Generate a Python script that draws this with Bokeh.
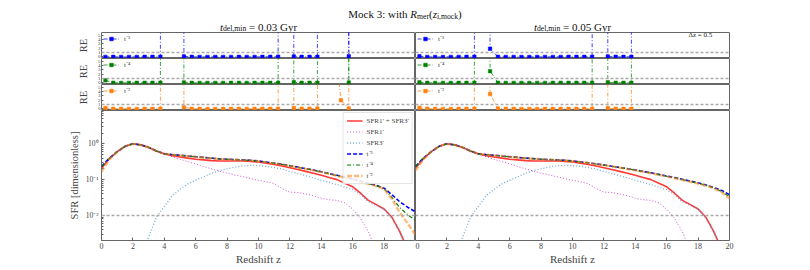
from bokeh.plotting import figure
from bokeh.layouts import column, row
from bokeh.models import Range1d, FixedTicker, Span, Legend, LegendItem, Label
from bokeh.embed import file_html
from bokeh.resources import INLINE
from bokeh.core.properties import value

FONT = "Liberation Serif"

# ---------------- data ----------------
z_sfr = [0.0, 0.5, 1.0, 1.5, 2.0, 2.5, 3.0, 3.5, 4.0, 4.5, 5.0, 5.5, 6.0, 6.5, 7.0, 7.5,
         8.0, 8.5, 9.0, 9.5, 10.0, 10.5, 11.0, 11.5, 12.0, 12.5, 13.0, 13.5, 14.0, 14.5,
         15.0, 15.5, 16.0, 16.5, 17.0, 17.5, 18.0, 18.5, 19.0, 19.5, 20.0]

sfr_total = [0.209, 0.380, 0.603, 0.851, 1.0, 0.933, 0.794, 0.631, 0.525, 0.468, 0.427, 0.398,
             0.372, 0.355, 0.339, 0.331, 0.331, 0.331, 0.331, 0.324, 0.309, 0.288, 0.263, 0.240,
             0.214, 0.191, 0.170, 0.151, 0.132, 0.115, 0.100, 0.0794, 0.0631, 0.0417, 0.0263,
             0.020, 0.0151, 0.0089, 0.00355, 0.00112, 0.000316]

z_sfr1 = z_sfr[:36]
sfr1 = [0.209, 0.380, 0.603, 0.851, 1.0, 0.933, 0.794, 0.617, 0.513, 0.437, 0.372, 0.316,
        0.275, 0.234, 0.200, 0.174, 0.151, 0.135, 0.120, 0.107, 0.0955, 0.0871, 0.0776, 0.0562,
        0.0447, 0.0437, 0.0398, 0.0355, 0.0302, 0.0275, 0.0263, 0.0224, 0.0151, 0.00832,
        0.00355, 0.001]

z_sfr3 = z_sfr[5:]
sfr3 = [0.00063, 0.00251, 0.00891, 0.0178, 0.0355, 0.0537, 0.0759, 0.0955, 0.120, 0.148,
        0.178, 0.200, 0.224, 0.240, 0.251, 0.245, 0.234, 0.219, 0.195, 0.170, 0.148, 0.129,
        0.112, 0.0955, 0.0832, 0.0724, 0.0617, 0.0525, 0.038, 0.024, 0.019, 0.0148, 0.0085,
        0.0034, 0.00107, 0.0003]

# reconstructions, t_del,min = 0.03 Gyr
rec_L_t3 = [0.234, 0.398, 0.603, 0.851, 1.0, 0.933, 0.794, 0.631, 0.525, 0.501, 0.479, 0.457,
            0.437, 0.417, 0.398, 0.380, 0.372, 0.363, 0.355, 0.347, 0.331, 0.309, 0.288, 0.269,
            0.245, 0.224, 0.204, 0.186, 0.166, 0.148, 0.132, 0.117, 0.105, 0.0912, 0.0794,
            0.0692, 0.0575, 0.0380, 0.0240, 0.0170, 0.0126]
rec_L_t4 = [0.229, 0.398, 0.603, 0.851, 1.0, 0.933, 0.794, 0.631, 0.525, 0.497, 0.475, 0.453,
            0.433, 0.414, 0.395, 0.377, 0.369, 0.361, 0.352, 0.343, 0.327, 0.305, 0.285, 0.265,
            0.242, 0.221, 0.201, 0.183, 0.163, 0.145, 0.129, 0.115, 0.102, 0.0891, 0.0776,
            0.0676, 0.0562, 0.0316, 0.0166, 0.0105, 0.00724]
rec_L_t2 = [0.166, 0.372, 0.598, 0.847, 0.995, 0.929, 0.790, 0.628, 0.522, 0.494, 0.472, 0.450,
            0.430, 0.411, 0.392, 0.375, 0.366, 0.358, 0.349, 0.340, 0.324, 0.302, 0.282, 0.262,
            0.240, 0.219, 0.199, 0.181, 0.162, 0.144, 0.128, 0.113, 0.100, 0.0871, 0.0759,
            0.0661, 0.055, 0.0282, 0.012, 0.00603, 0.00282]

# reconstructions, t_del,min = 0.05 Gyr
rec_R_t3 = [0.234, 0.398, 0.603, 0.851, 1.0, 0.933, 0.794, 0.631, 0.525, 0.501, 0.479, 0.457,
            0.437, 0.417, 0.398, 0.385, 0.372, 0.363, 0.355, 0.347, 0.331, 0.313, 0.295, 0.275,
            0.257, 0.237, 0.219, 0.202, 0.186, 0.170, 0.155, 0.140, 0.126, 0.114, 0.102,
            0.0912, 0.0813, 0.0708, 0.0603, 0.0501, 0.0380]
rec_R_t4 = [0.229, 0.398, 0.603, 0.851, 1.0, 0.933, 0.794, 0.631, 0.525, 0.498, 0.476, 0.455,
            0.435, 0.415, 0.396, 0.383, 0.370, 0.361, 0.353, 0.345, 0.329, 0.311, 0.293, 0.273,
            0.255, 0.235, 0.217, 0.200, 0.184, 0.168, 0.153, 0.138, 0.124, 0.112, 0.100,
            0.0891, 0.0794, 0.0692, 0.0589, 0.0468, 0.0331]
rec_R_t2 = [0.178, 0.372, 0.598, 0.847, 0.995, 0.929, 0.790, 0.628, 0.522, 0.495, 0.473, 0.452,
            0.432, 0.413, 0.394, 0.381, 0.368, 0.359, 0.351, 0.343, 0.327, 0.309, 0.291, 0.271,
            0.253, 0.233, 0.215, 0.198, 0.182, 0.166, 0.151, 0.136, 0.122, 0.110, 0.0977,
            0.0871, 0.0776, 0.0676, 0.0575, 0.0447, 0.0295]

# relative errors on the Delta z = 0.5 bins (H = far above the panel)
H = 1000.0
z_bins = [0.25, 0.75, 1.25, 1.75, 2.25, 2.75, 3.25, 3.75, 4.25, 4.75, 5.25, 5.75, 6.25, 6.75,
          7.25, 7.75, 8.25, 8.75, 9.25, 9.75, 10.25, 10.75, 11.25, 11.75, 12.25, 12.75, 13.25,
          13.75, 14.25, 14.75, 15.25, 15.75, 16.25, 16.75, 17.25, 17.75, 18.25, 18.75, 19.25,
          19.75]

re_L_t3 = [0.02, 0.03, 0.01, 0.01, 0.02, 0.03, 0.04, 0.05, H, H, 0.12,
           0.03, 0.02, 0.02, 0.01, 0.02, 0.02, 0.03, 0.02, 0.02, 0.03, 0.04, 0.05,
           H, 0.10, 0.03, 0.04, 0.05, H, H, H, 0.15, H, H, H, H, H, H, H, H]
re_L_t4 = [0.60, 0.05, 0.02, 0.02, 0.03, 0.03, 0.04, 0.06, H, H, 0.10,
           0.03, 0.02, 0.02, 0.02, 0.02, 0.03, 0.03, 0.02, 0.03, 0.03, 0.04, 0.05,
           H, 0.15, 0.04, 0.05, 0.06, H, H, H, 0.10, H, H, H, H, H, H, H, H]
re_L_t2 = [0.25, 0.05, 0.03, 0.02, 0.02, 0.03, 0.04, 0.05, H, H, 0.40,
           0.04, 0.03, 0.02, 0.02, 0.03, 0.03, 0.03, 0.02, 0.03, 0.04, 0.04, 0.06,
           H, 0.25, 0.05, 0.06, 0.08, H, 20.0, 2.0, 0.10, H, H, H, H, H, H, H, H]

re_R_t3 = [0.15, 0.02, 0.01, 0.01, 0.02, 0.02, 0.03, 0.04, H, 1.9, 0.05,
           0.02, 0.02, 0.01, 0.01, 0.02, 0.02, 0.02, 0.02, 0.03, 0.03, 0.04, 0.05,
           H, 0.10, 0.03, 0.03, 0.04, H, H, H, H, H, H, H, H, H, H, H, H]
re_R_t4 = [0.15, 0.03, 0.02, 0.02, 0.02, 0.03, 0.03, 0.05, H, 2.7, 0.06,
           0.02, 0.02, 0.02, 0.02, 0.02, 0.02, 0.03, 0.03, 0.03, 0.03, 0.04, 0.05,
           H, 0.15, 0.04, 0.04, 0.05, H, H, H, H, H, H, H, H, H, H, H, H]
re_R_t2 = [0.30, 0.05, 0.03, 0.02, 0.02, 0.03, 0.04, 0.05, H, 3.4, 0.10,
           0.03, 0.03, 0.02, 0.02, 0.02, 0.03, 0.03, 0.03, 0.03, 0.04, 0.04, 0.05,
           H, 0.20, 0.04, 0.05, 0.06, H, H, H, H, H, H, H, H, H, H, H, H]

series_labels = ["t⁻³", "t⁻⁴", "t⁻²"]
legend_labels = ["SFR1′ + SFR3′", "SFR1′", "SFR3′"]
x_ticks = [0, 2, 4, 6, 8, 10, 12, 14, 16, 18, 20]
re_ticks = [0, 1, 2, 3, 4, 5]
sfr_ticks = [0.01, 0.1, 1]
sfr_minor = [0.002, 0.003, 0.004, 0.005, 0.006, 0.007, 0.008, 0.009,
             0.02, 0.03, 0.04, 0.05, 0.06, 0.07, 0.08, 0.09,
             0.2, 0.3, 0.4, 0.5, 0.6, 0.7, 0.8, 0.9, 2, 3, 4, 5, 6, 7, 8]
sfr_tick_labels = {0.01: "10⁻²", 0.1: "10⁻¹", 1: "10⁰"}
col_titles = ["0.03", "0.05"]

# ---------------- styles ----------------
C_BLUE, C_GREEN, C_ORANGE = "#0000ff", "#008000", "#ff7f0e"
EDGE = "#666666"
FRAME_W = 314
LEFT_B, RIGHT_B = 101, 10
LEFT_W, RIGHT_W = LEFT_B + FRAME_W, FRAME_W + RIGHT_B


def base_fig(width, height, y_range, left_col, y_log=False, bottom=False):
    p = figure(width=width, height=height, x_range=Range1d(0, 20), y_range=y_range,
               y_axis_type="log" if y_log else "linear",
               x_axis_location="below" if bottom else None,
               y_axis_location="left" if left_col else None,
               toolbar_location=None, output_backend="svg",
               min_border_left=LEFT_B if left_col else 0,
               min_border_right=0 if left_col else RIGHT_B,
               min_border_top=0, min_border_bottom=28 if bottom else 0)
    p.grid.visible = False
    p.outline_line_color = EDGE
    p.outline_line_width = 1
    if left_col:
        yax = p.yaxis[0]
        yax.axis_line_color = None
        yax.major_tick_in = 3
        yax.major_tick_out = 0
        yax.minor_tick_in = 2
        yax.minor_tick_out = 0
        yax.major_tick_line_color = EDGE
        yax.minor_tick_line_color = EDGE
        yax.major_label_text_font = FONT
        yax.axis_label_text_font = FONT
        yax.axis_label_text_font_style = "normal"
    if bottom:
        xax = p.xaxis[0]
        xax.ticker = FixedTicker(ticks=x_ticks if not left_col else x_ticks[:-1], minor_ticks=[])
        xax.axis_line_color = None
        xax.major_tick_in = 3
        xax.major_tick_out = 0
        xax.major_tick_line_color = EDGE
        xax.major_label_text_font = FONT
        xax.major_label_text_font_size = "8px"
        xax.major_label_standoff = 2
        xax.axis_label = "Redshift z"
        xax.axis_label_text_font = FONT
        xax.axis_label_text_font_size = "11px"
        xax.axis_label_text_font_style = "normal"
        xax.axis_label_standoff = 1
    return p


def re_panel(vals, color, label, left_col, extra_label=None):
    p = base_fig(LEFT_W if left_col else RIGHT_W, 26, Range1d(-0.35, 5.6), left_col)
    if left_col:
        yax = p.yaxis[0]
        yax.ticker = FixedTicker(ticks=re_ticks, minor_ticks=[])
        yax.major_tick_in = 2
        yax.major_label_text_font_size = "5px"
        yax.major_label_standoff = 1
        yax.axis_label = "RE"
        yax.axis_label_text_font_size = "10.5px"
        yax.axis_label_standoff = 6
    p.add_layout(Span(location=1, dimension="width", line_color="#aaaaaa",
                      line_dash="3 2", line_width=1.5))
    lr = p.line(z_bins, vals, line_color=color, line_width=1, line_alpha=0.75,
                line_dash="4 2 1 2")
    zf = [z for z, v in zip(z_bins, vals) if v < 100]
    vf = [v for v in vals if v < 100]
    sr = p.scatter(zf, vf, marker="square", size=3.5, fill_color=color, line_color=color,
                   line_width=0.5)
    leg = Legend(items=[LegendItem(label=label, renderers=[lr, sr])], location="top_left",
                 label_text_font=FONT, label_text_font_size="7px", glyph_width=16,
                 glyph_height=9, label_height=9, padding=3, margin=2, label_standoff=5,
                 border_line_color=None, background_fill_alpha=0)
    p.add_layout(leg)
    if extra_label:
        p.add_layout(Label(x=18.9, y=4.95, text=extra_label, text_font=FONT,
                           text_font_size="7px", text_align="right", text_baseline="middle",
                           text_color="#222222"))
    return p


def sfr_panel(recs, left_col):
    p = base_fig(LEFT_W if left_col else RIGHT_W, 158, Range1d(0.002, 8.5), left_col,
                 y_log=True, bottom=True)
    if left_col:
        yax = p.yaxis[0]
        yax.ticker = FixedTicker(ticks=sfr_ticks, minor_ticks=sfr_minor)
        yax.major_label_overrides = sfr_tick_labels
        yax.major_label_text_font_size = "7.5px"
        yax.major_label_standoff = 3
        yax.axis_label = "SFR [dimensionless]"
        yax.axis_label_text_font_size = "10.5px"
        yax.axis_label_standoff = 3
    p.add_layout(Span(location=0.01, dimension="width", line_color="#aaaaaa",
                      line_dash="3 2", line_width=1.5))
    r_tot = p.line(z_sfr, sfr_total, line_color="#ff2222", line_width=1.6, line_alpha=0.9)
    r_1 = p.line(z_sfr1, sfr1, line_color="#cc33cc", line_width=1, line_dash="1 2",
                 line_alpha=0.85)
    r_3 = p.line(z_sfr3, sfr3, line_color="#5a9fd4", line_width=1.3, line_dash="1 2",
                 line_alpha=0.85)
    r_a = p.line(z_sfr, recs[0], line_color=C_BLUE, line_width=1.6, line_dash="4 2")
    r_b = p.line(z_sfr, recs[1], line_color=C_GREEN, line_width=1.2, line_dash="4 2 1 2")
    r_c = p.line(z_sfr, recs[2], line_color=C_ORANGE, line_width=2.4, line_dash="5 2",
                 line_alpha=0.55)
    if left_col:
        rs = [r_tot, r_1, r_3, r_a, r_b, r_c]
        labs = legend_labels + series_labels
        leg = Legend(items=[LegendItem(label=l, renderers=[r]) for l, r in zip(labs, rs)],
                     location="top_right", label_text_font=FONT, label_text_font_size="7px",
                     glyph_width=16, glyph_height=9, label_height=9, spacing=2, padding=3,
                     margin=2, label_standoff=4, border_line_color="#cccccc",
                     border_line_width=1, background_fill_alpha=0.85)
        p.add_layout(leg)
    return p


# ---------------- header (titles) ----------------
TW = {'M': 889, 'o': 500, 'c': 444, 'k': 500, ' ': 250, '3': 500, ':': 278, 'w': 722,
      'i': 278, 't': 278, 'h': 500, 'R': 667, 'm': 778, 'e': 444, 'r': 333, '(': 333,
      ')': 333, 'z': 444, ',': 250, 'd': 500, 'l': 278, 'n': 500, '=': 564, '0': 500,
      '.': 250, '5': 500, 'G': 722, 'y': 500}
TWI = {'R': 611, 't': 278, 'z': 389}


def twidth(s, size, style):
    tot = 0
    for ch in s:
        tot += (TWI.get(ch) if style == "italic" and ch in TWI else TW.get(ch, 500))
    return tot * size / 1000.0


def draw_pieces(p, pieces, x_center, y_base):
    total = sum(twidth(t, s, st) for t, s, st, dy in pieces)
    x = x_center - total / 2.0
    for t, s, st, dy in pieces:
        lead = len(t) - len(t.lstrip(" "))
        xs = x + twidth(" " * lead, s, st)
        p.text(x=[xs], y=[y_base + dy], text=[t.strip(" ")], text_font=value(FONT),
               text_font_size=f"{s}px", text_font_style=st, text_align="left",
               text_baseline="alphabetic", text_color="#111111")
        x += twidth(t, s, st)


HEADER_H = 32
HEADER_W = LEFT_W + RIGHT_W + 71
header = figure(width=HEADER_W, height=HEADER_H,
                x_range=Range1d(0, HEADER_W), y_range=Range1d(HEADER_H, 0),
                x_axis_location=None, y_axis_location=None, toolbar_location=None,
                output_backend="svg", min_border=0)
header.grid.visible = False
header.outline_line_color = None
draw_pieces(header, [("Mock 3: with ", 11, "normal", 0), ("R", 11, "italic", 0),
                     ("mer", 7.7, "normal", 2.3), ("(", 11, "normal", 0),
                     ("z", 11, "italic", 0), ("i,mock", 7.7, "normal", 2.3),
                     (")", 11, "normal", 0)], 404.5, 13.5)
for xc, tv in zip([LEFT_B + FRAME_W / 2, LEFT_W + FRAME_W / 2], col_titles):
    draw_pieces(header, [("t", 11, "italic", 0), ("del,min", 7.7, "normal", 2.0),
                         (" = " + tv + " Gyr", 11, "normal", 0)], xc, 26)

# ---------------- panels ----------------
left_col = column(
    re_panel(re_L_t3, C_BLUE, series_labels[0], True),
    re_panel(re_L_t4, C_GREEN, series_labels[1], True),
    re_panel(re_L_t2, C_ORANGE, series_labels[2], True),
    sfr_panel([rec_L_t3, rec_L_t4, rec_L_t2], True),
)
right_col = column(
    re_panel(re_R_t3, C_BLUE, series_labels[0], False, extra_label="Δz = 0.5"),
    re_panel(re_R_t4, C_GREEN, series_labels[1], False),
    re_panel(re_R_t2, C_ORANGE, series_labels[2], False),
    sfr_panel([rec_R_t3, rec_R_t4, rec_R_t2], False),
)

page = column(header, row(left_col, right_col))

open("out.html", "w").write(file_html(page, INLINE))
